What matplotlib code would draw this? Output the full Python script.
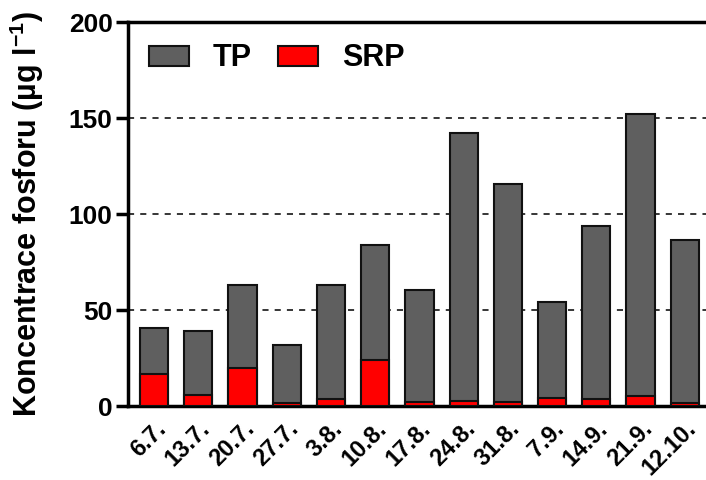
import matplotlib.pyplot as plt
import numpy as np

plt.rcParams['font.family'] = ['Liberation Sans', 'DejaVu Sans']
plt.rcParams['font.weight'] = 'bold'
plt.rcParams['mathtext.fontset'] = 'custom'
plt.rcParams['mathtext.bf'] = 'Liberation Sans:bold'

dates = ['6.7.', '13.7.', '20.7.', '27.7.', '3.8.', '10.8.', '17.8.',
         '24.8.', '31.8.', '7.9.', '14.9.', '21.9.', '12.10.']
tp = [40.5, 39.2, 63, 31.8, 62.9, 83.9, 60.4, 142, 115.6, 54.3, 93.7, 152, 86.5]
srp = [16.5, 5.6, 19.8, 1.4, 3.5, 24, 1.9, 2.6, 1.9, 4.2, 3.5, 5.0, 1.6]

fig = plt.figure(figsize=(7.06, 4.8), dpi=100)
ax = fig.add_axes([128 / 706, (480 - 406) / 480, 1 - 128 / 706, (406 - 22) / 480])

x = np.arange(len(dates))
w = 0.64
ax.bar(x, tp, width=w, color='#5f5f5f', edgecolor='#111111', linewidth=1.5,
       label='TP', zorder=3)
ax.bar(x, srp, width=w, color='#ff0000', edgecolor='#111111', linewidth=1.5,
       label='SRP', zorder=4)

ax.set_ylim(0, 200)
ax.set_xlim(-0.59, 12.48)
ax.set_yticks([0, 50, 100, 150, 200])
for v in [50, 100, 150]:
    ax.axhline(v, color='black', linestyle=(0, (4, 4)), linewidth=1.1, zorder=1)

ax.spines['right'].set_visible(False)
for s in ['left', 'bottom', 'top']:
    ax.spines[s].set_linewidth(2.5)

ax.tick_params(axis='y', direction='out', length=9, width=2.5, labelsize=19, pad=2)
ax.tick_params(axis='x', length=0, labelsize=17, pad=8)
ax.set_xticks(x)
ax.set_xticklabels(dates, rotation=45, ha='right', rotation_mode='anchor')
for lbl in ax.get_xticklabels() + ax.get_yticklabels():
    lbl.set_fontweight('bold')

ax.set_ylabel('Koncentrace fosforu (µg l$^{\\mathbf{\u2212}\\mathbf{1}}$)', fontsize=22,
              fontweight='bold')
ax.yaxis.set_label_coords(-0.142, 0.5)

leg = ax.legend(loc='center left', ncol=2, frameon=False, fontsize=22,
                handlelength=1.31, handleheight=0.62, columnspacing=0.85,
                handletextpad=0.79, borderpad=0, borderaxespad=0,
                bbox_to_anchor=(0.036, 0.905))
for t in leg.get_texts():
    t.set_fontweight('bold')

fig.savefig('out.png', dpi=100)
